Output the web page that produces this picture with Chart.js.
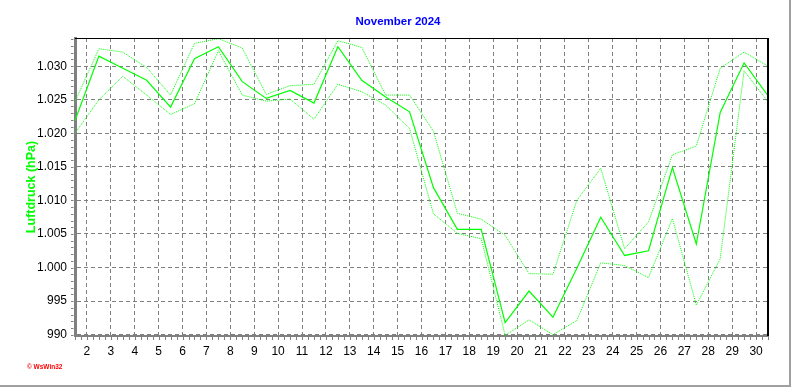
<!DOCTYPE html>
<html>
<head>
<meta charset="utf-8">
<script src="https://cdn.jsdelivr.net/npm/chart.js@4/dist/chart.umd.min.js"></script>
<style>
  html, body { margin: 0; padding: 0; background: #ffffff; }
  #wrap { width: 792px; height: 387px; }
</style>
</head>
<body>
<div id="wrap"><canvas id="c" width="792" height="387"></canvas></div>
<script>
// ---- data (hPa), one value per day of November 2024 ----
const days = [1,2,3,4,5,6,7,8,9,10,11,12,13,14,15,16,17,18,19,20,21,22,23,24,25,26,27,28,29,30];
const meanP = [1021.9,1031.5,1029.7,1027.9,1023.9,1031.1,1032.9,1027.7,1025.2,1026.4,1024.5,1032.9,1027.9,1025.4,1023.2,1011.9,1005.7,1005.7,991.8,996.5,992.6,999.9,1007.5,1001.8,1002.5,1014.9,1003.5,1023.1,1030.5,1025.6];
const maxP  = [1024.7,1032.6,1032.1,1029.8,1025.7,1033.4,1034.1,1032.7,1025.8,1027.1,1027.3,1033.8,1032.8,1025.7,1025.7,1020.3,1008.1,1007.2,1004.8,999.1,999.0,1010.0,1014.8,1002.8,1006.8,1016.8,1018.1,1029.7,1032.1,1030.0];
const minP  = [1020.0,1025.0,1028.5,1025.7,1022.8,1024.4,1032.3,1025.7,1024.8,1025.1,1022.1,1027.3,1026.2,1024.2,1020.7,1008.0,1005.1,1004.3,989.9,992.2,990.0,992.1,1000.7,1000.3,998.5,1007.3,994.4,1001.3,1029.3,1024.7];
const xTicks = [2,3,4,5,6,7,8,9,10,11,12,13,14,15,16,17,18,19,20,21,22,23,24,25,26,27,28,29,30];
const yTicks = [990,995,1000,1005,1010,1015,1020,1025,1030];
const titleText = 'November 2024';
const yTitle = 'Luftdruck (hPa)';
const credit = '\u00A9 WsWin32';

// daily values are plotted at mid-day
const toPts = arr => days.map((d, i) => ({ x: d + 0.5, y: arr[i] }));

function fmtDe(v) {
  if (v >= 1000) {
    return Math.floor(v / 1000) + '.' + String(v % 1000).padStart(3, '0');
  }
  return String(v);
}

const FONT = "'Liberation Sans', Arial, sans-serif";
const GREEN = '#00ff00';

const decor = {
  id: 'decor',
  afterDraw(chart) {
    const ctx = chart.ctx;
    const ca = chart.chartArea;
    const xs = chart.scales.x, ys = chart.scales.y;
    ctx.save();
    // top and right frame of plot
    ctx.strokeStyle = '#000000';
    ctx.lineWidth = 1;
    ctx.beginPath();
    ctx.moveTo(ca.left, 38.5); ctx.lineTo(768.5, 38.5);
    ctx.stroke();
    ctx.lineWidth = 2;
    ctx.beginPath();
    ctx.moveTo(768, 38); ctx.lineTo(768, 336);
    ctx.stroke();
    // minor ticks
    ctx.strokeStyle = '#808080';
    ctx.lineWidth = 1;
    ctx.beginPath();
    for (let v = 990; v <= 1034; v++) {
      const y = Math.round(ys.getPixelForValue(v)) + 0.5;
      ctx.moveTo(71, y); ctx.lineTo(73.5, y);
    }
    for (let t = 1.5; t <= 30.5001; t += 0.25) {
      const x = Math.round(xs.getPixelForValue(t)) + 0.5;
      ctx.moveTo(x, 337); ctx.lineTo(x, 340);
    }
    ctx.stroke();
    // window frame
    ctx.fillStyle = '#a0a0a0';
    ctx.fillRect(789, 0, 2, 387);
    ctx.fillRect(0, 385, 791, 2);
    // title
    ctx.fillStyle = '#0000ff';
    ctx.font = 'bold 11.5px ' + FONT;
    ctx.textAlign = 'center';
    ctx.textBaseline = 'middle';
    ctx.fillText(titleText, 398, 22);
    // y title
    ctx.save();
    ctx.translate(32, 187);
    ctx.rotate(-Math.PI / 2);
    ctx.fillStyle = GREEN;
    ctx.font = 'bold 12.5px ' + FONT;
    ctx.fillText(yTitle, 0, 0);
    ctx.restore();
    // credit
    ctx.fillStyle = '#ff0000';
    ctx.font = 'bold 6.5px ' + FONT;
    ctx.textAlign = 'left';
    ctx.fillText(credit, 27, 367);
    ctx.restore();
  }
};

new Chart(document.getElementById('c'), {
  type: 'line',
  data: {
    datasets: [
      { label: 'Mittel', data: toPts(meanP), borderColor: GREEN, borderWidth: 1.2, pointRadius: 0, tension: 0, fill: false },
      { label: 'Max', data: toPts(maxP), borderColor: GREEN, borderWidth: 1, borderDash: [1, 1], pointRadius: 0, tension: 0, fill: false },
      { label: 'Min', data: toPts(minP), borderColor: GREEN, borderWidth: 1, borderDash: [1, 1], pointRadius: 0, tension: 0, fill: false }
    ]
  },
  options: {
    responsive: false,
    animation: false,
    devicePixelRatio: 1,
    layout: { padding: { left: 0, right: 24, top: 38, bottom: 0 } },
    plugins: { legend: { display: false }, title: { display: false }, tooltip: { enabled: false } },
    scales: {
      x: {
        type: 'linear',
        min: 1.5, max: 30.5,
        afterBuildTicks: s => { s.ticks = xTicks.map(v => ({ value: v })); },
        afterFit: s => { s.height = 51; },
        ticks: { color: '#000000', font: { family: FONT, size: 12 }, padding: 8, maxRotation: 0, autoSkip: false, callback: v => String(v) },
        grid: { color: '#808080', lineWidth: 1, drawTicks: false },
        border: { display: true, color: '#808080', width: 2, dash: [4, 3] }
      },
      y: {
        type: 'linear',
        min: 989.8, max: 1034.2,
        afterBuildTicks: s => { s.ticks = yTicks.map(v => ({ value: v })); },
        afterFit: s => { s.width = 75; },
        ticks: { color: '#000000', font: { family: FONT, size: 12 }, padding: 8, autoSkip: false, callback: v => fmtDe(v) },
        grid: { color: '#808080', lineWidth: 1, drawTicks: false },
        border: { display: true, color: '#808080', width: 3, dash: [4, 3] }
      }
    }
  },
  plugins: [decor]
});
</script>
</body>
</html>
